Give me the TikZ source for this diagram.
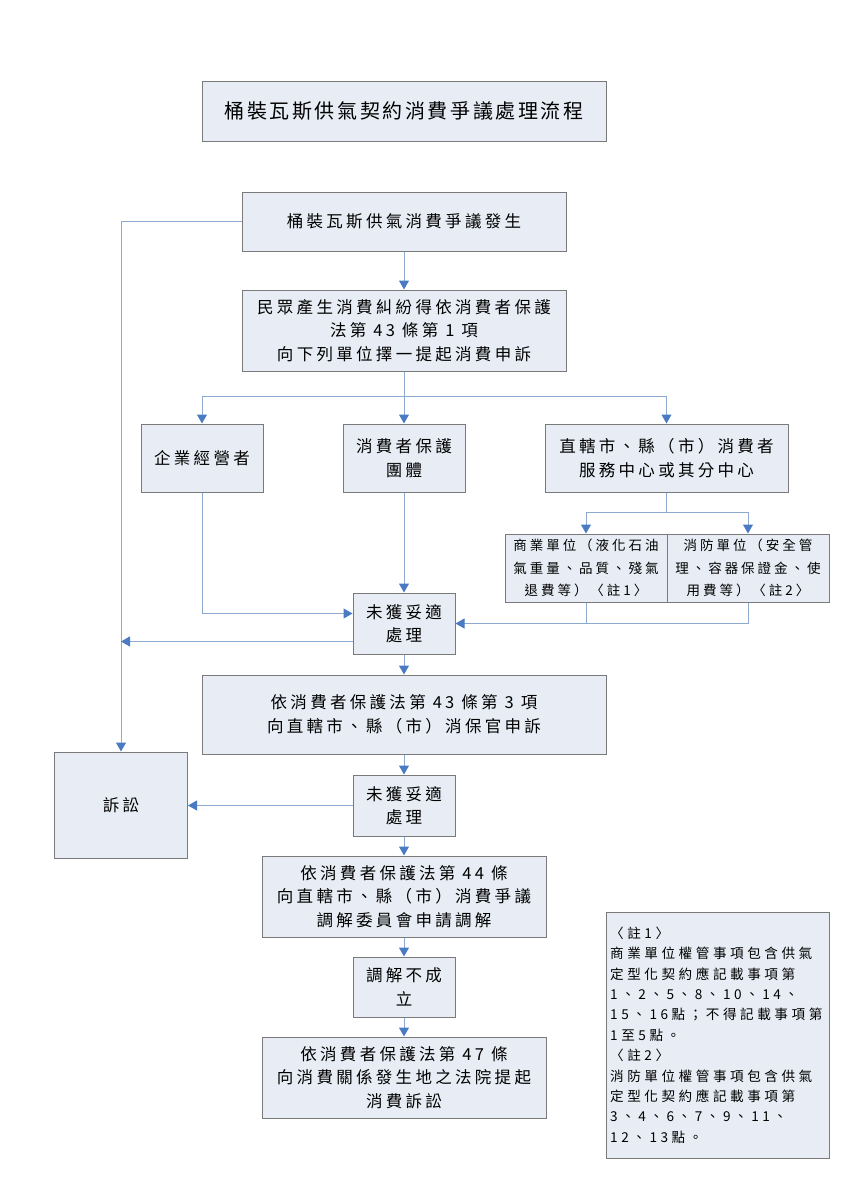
\documentclass[tikz,border=0pt]{standalone}
\usepackage{fontspec}
\usetikzlibrary{arrows.meta,calc}
\newfontfamily\cjk{Noto Sans CJK TC}[LetterSpace=20]
\newfontfamily\cjksmall{Noto Sans CJK TC}[LetterSpace=22]
\newfontfamily\cjktitle{Noto Sans CJK TC}[LetterSpace=13]
\newfontfamily\cjknote{Noto Sans CJK TC}[LetterSpace=26]
\definecolor{boxfill}{HTML}{E8EDF5}
\definecolor{boxborder}{HTML}{7A7A7A}
\definecolor{linecol}{HTML}{8EA9D0}
\definecolor{arrowcol}{HTML}{4A7BC2}
\newcommand{\bodyfont}{\cjk\fontsize{16.5}{23.5}\selectfont}
\newcommand{\titlefont}{\cjktitle\fontsize{20}{24}\selectfont}
\newcommand{\smallfont}{\cjksmall\fontsize{13.5}{22.5}\selectfont}
\newcommand{\notefont}{\cjknote\fontsize{13.6}{20.4}\selectfont}
\tikzset{
  box/.style={draw=boxborder, fill=boxfill, line width=1pt, inner sep=0pt, align=center, font=\bodyfont},
  conn/.style={draw=linecol, line width=1pt},
  arr/.style={conn, -{Triangle[length=9pt,width=10pt,color=arrowcol]}}
}
\begin{document}
\begin{tikzpicture}[x=1pt,y=-1pt]
\path[use as bounding box, fill=white] (0,0) rectangle (849,1200);
% nodes
\node[box, minimum width=404, minimum height=60, font=\titlefont] (title) at (404,111) {桶裝瓦斯供氣契約消費爭議處理流程};
\node[box, minimum width=324, minimum height=59] (b1) at (404,221.5) {桶裝瓦斯供氣消費爭議發生};
\node[box, minimum width=324, minimum height=81] (b2) at (404,330.5) {民眾產生消費糾紛得依消費者保護\\法第 43 條第 1 項\\向下列單位擇一提起消費申訴};
\node[box, minimum width=122, minimum height=68] (qy) at (202,458) {企業經營者};
\node[box, minimum width=122, minimum height=68] (xb) at (404,458) {消費者保護\\團體};
\node[box, minimum width=243, minimum height=68] (zx) at (666.5,458) {直轄市、縣（市）消費者\\服務中心或其分中心};
\node[box, minimum width=162, minimum height=68, font=\smallfont] (sy) at (586,568) {商業單位（液化石油\\氣重量、品質、殘氣\\退費等）〈註1〉};
\node[box, minimum width=162, minimum height=68, font=\smallfont] (xf) at (748,568) {消防單位（安全管\\理、容器保證金、使\\用費等）〈註2〉};
\node[box, minimum width=102, minimum height=61] (wh1) at (404,623.5) {未獲妥適\\處理};
\node[box, minimum width=404, minimum height=79] (b43) at (404,714.5) {依消費者保護法第 43 條第 3 項\\向直轄市、縣（市）消保官申訴};
\node[box, minimum width=133, minimum height=106] (ss) at (121,805) {訴訟};
\node[box, minimum width=102, minimum height=61] (wh2) at (404,805.5) {未獲妥適\\處理};
\node[box, minimum width=284, minimum height=81] (b44) at (404,896.5) {依消費者保護法第 44 條\\向直轄市、縣（市）消費爭議\\調解委員會申請調解};
\node[box, minimum width=102, minimum height=60] (tj) at (404,987) {調解不成\\立};
\node[box, minimum width=284, minimum height=81] (b47) at (404,1077.5) {依消費者保護法第 47 條\\向消費關係發生地之法院提起\\消費訴訟};
\node[box, minimum width=223, minimum height=246] (note) at (717.5,1035) {};
\node[anchor=west, inner sep=0pt, align=left, font=\notefont] (notetext) at (610,1035) {〈註1〉\\商業單位權管事項包含供氣\\定型化契約應記載事項第\\1、2、5、8、10、14、\\15、16點；不得記載事項第\\1至5點。\\〈註2〉\\消防單位權管事項包含供氣\\定型化契約應記載事項第\\3、4、6、7、9、11、\\12、13點。};
% branch points
\coordinate (br) at (404,396);
\coordinate (br2) at (666.5,512);
% connectors
\draw[arr] (b1) -- (b2);
\draw[arr] (b1.west) -| (ss.north);
\draw[arr] (b2) -- (xb);
\draw[arr] (br) -| (qy.north);
\draw[arr] (br) -| (zx.north);
\draw[conn] (zx.south) -- (br2);
\draw[arr] (br2) -| (sy.north);
\draw[arr] (br2) -| (xf.north);
\draw[conn] (sy.south) -- (sy.south |- wh1.east);
\draw[arr] (xf.south) |- (wh1.east);
\draw[arr] (qy.south) |- ([yshift=10pt]wh1.west);
\draw[arr] (xb) -- (wh1);
\draw[arr] ([yshift=-18pt]wh1.west) -- ([yshift=-18pt]wh1.west -| ss.north);
\draw[arr] (wh1) -- (b43);
\draw[arr] (b43) -- (wh2);
\draw[arr] (wh2.west) -- (wh2.west -| ss.east);
\draw[arr] (wh2) -- (b44);
\draw[arr] (b44) -- (tj);
\draw[arr] (tj) -- (b47);
\end{tikzpicture}
\end{document}
